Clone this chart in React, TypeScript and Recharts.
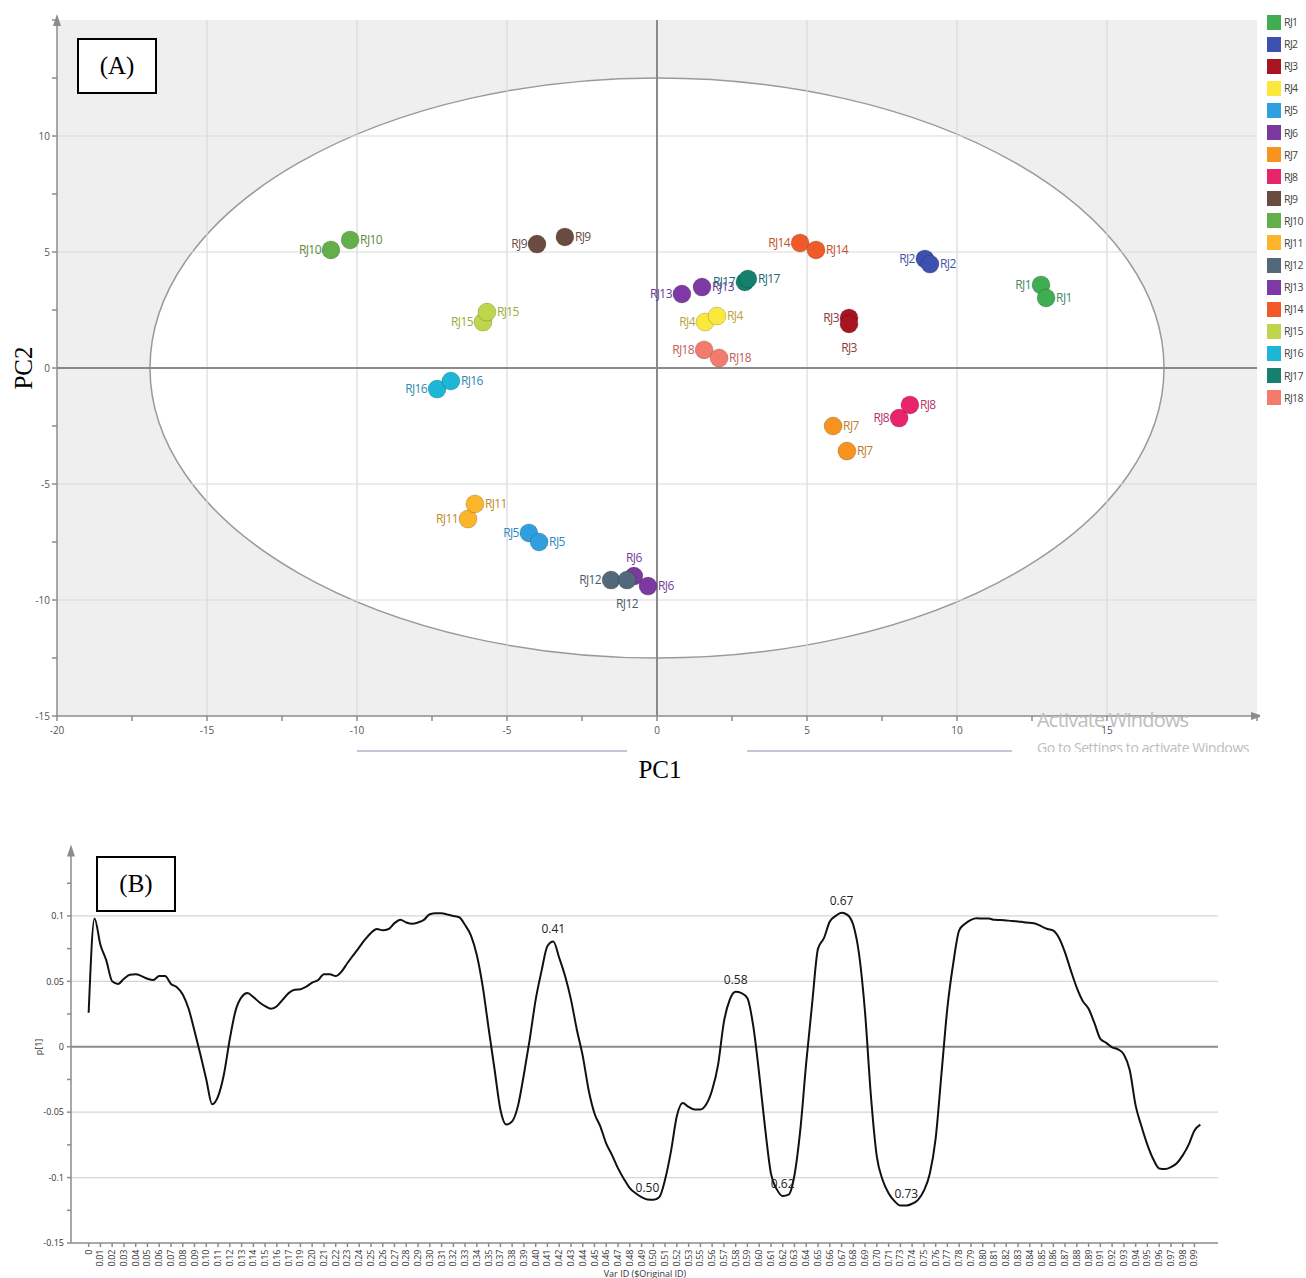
import React from 'react';
import {
  ScatterChart, Scatter, LineChart, Line, XAxis, YAxis,
  ReferenceArea, ReferenceLine, ReferenceDot,
} from 'recharts';

// ---- (A) PCA score plot ----
const samples = ['RJ1', 'RJ2', 'RJ3', 'RJ4', 'RJ5', 'RJ6', 'RJ7', 'RJ8', 'RJ9', 'RJ10', 'RJ11', 'RJ12', 'RJ13', 'RJ14', 'RJ15', 'RJ16', 'RJ17', 'RJ18'];
const pc1Rep1 = [12.8, 8.93, 6.4, 1.6, -4.27, -0.77, 5.87, 8.07, -4.0, -10.87, -6.3, -1.53, 0.83, 4.77, -5.8, -7.33, 2.93, 1.57];
const pc2Rep1 = [3.58, 4.7, 2.16, 1.98, -7.11, -8.97, -2.5, -2.16, 5.34, 5.09, -6.51, -9.14, 3.19, 5.39, 1.98, -0.91, 3.71, 0.78];
const pc1Rep2 = [12.97, 9.1, 6.4, 2.0, -3.93, -0.3, 6.33, 8.43, -3.07, -10.23, -6.07, -1.0, 1.5, 5.3, -5.67, -6.87, 3.03, 2.07];
const pc2Rep2 = [3.02, 4.48, 1.9, 2.24, -7.5, -9.4, -3.58, -1.59, 5.65, 5.52, -5.86, -9.14, 3.49, 5.09, 2.41, -0.56, 3.84, 0.43];
// Hotelling T2 ellipse semi-axes
const ellipseRadiusX = 16.9;
const ellipseRadiusY = 12.5;
const xTicksA = [-20, -17.5, -15, -12.5, -10, -7.5, -5, -2.5, 0, 2.5, 5, 7.5, 10, 12.5, 15, 17.5, 20];
const yTicksA = [-15, -12.5, -10, -7.5, -5, -2.5, 0, 2.5, 5, 7.5, 10, 12.5, 15];
const xGridA = [-15, -10, -5, 5, 10, 15];
const yGridA = [-10, -5, 5, 10];

const pointColors = ['#41ad52', '#3d52b0', '#a8141f', '#fbe83c', '#2f9fe0', '#7b3a9f', '#f7931e', '#e8246a', '#6b4a3f', '#63b04a', '#fbb52a', '#51697a', '#7d3aa6', '#f05a28', '#bdd64b', '#1cb7d4', '#14806d', '#f27b6d'];
const labelColors = ['#3f8a5c', '#3f51a8', '#8a3a3a', '#b5a43e', '#2a89c6', '#7a3a9e', '#c07a2a', '#b8336a', '#6b4a3f', '#5c8a40', '#c08a2a', '#4a5a6a', '#6a3a9a', '#c0502a', '#9aac3a', '#2a8ab0', '#1a6a70', '#c0605a'];
const sideRep1 = ['left', 'left', 'left', 'left', 'left', 'top', 'right', 'left', 'left', 'left', 'left', 'left', 'left', 'left', 'left', 'left', 'left', 'left'];
const sideRep2 = ['right', 'right', 'bottom', 'right', 'right', 'right', 'right', 'right', 'right', 'right', 'right', 'bottom', 'right', 'right', 'right', 'right', 'right', 'right'];

// ---- (B) loading line plot ----
const varLabels = [
  '0', '0.01', '0.02', '0.03', '0.04', '0.05', '0.06', '0.07', '0.08', '0.09', '0.10', '0.11', '0.12', '0.13', '0.14', '0.15', '0.16', '0.17',
  '0.19', '0.20', '0.21', '0.22', '0.23', '0.24', '0.25', '0.26', '0.27', '0.28', '0.29', '0.30', '0.31', '0.32', '0.33', '0.34', '0.35',
  '0.37', '0.38', '0.39', '0.40', '0.41', '0.42', '0.43', '0.44', '0.45', '0.46', '0.47', '0.48', '0.49', '0.50', '0.51', '0.52', '0.53',
  '0.55', '0.56', '0.57', '0.58', '0.59', '0.60', '0.61', '0.62', '0.63', '0.64', '0.65', '0.66', '0.67', '0.68', '0.69', '0.70', '0.71',
  '0.73', '0.74', '0.75', '0.76', '0.77', '0.78', '0.79', '0.80', '0.81', '0.82', '0.83', '0.84', '0.85', '0.86', '0.87', '0.88', '0.89',
  '0.91', '0.92', '0.93', '0.94', '0.95', '0.96', '0.97', '0.98', '0.99',
];
// p[1] sampled every half tick
const p1 = [
  0.026, 0.098, 0.078, 0.066, 0.050, 0.048, 0.052, 0.055, 0.0555, 0.054,
  0.052, 0.051, 0.054, 0.054, 0.048, 0.0455, 0.040, 0.029, 0.012, -0.006,
  -0.025, -0.044, -0.038, -0.021, 0.006, 0.028, 0.038, 0.041, 0.038, 0.034,
  0.031, 0.029, 0.031, 0.036, 0.041, 0.0435, 0.044, 0.046, 0.049, 0.051,
  0.0555, 0.0555, 0.054, 0.0575, 0.064, 0.070, 0.076, 0.082, 0.087, 0.090,
  0.089, 0.090, 0.0945, 0.097, 0.095, 0.094, 0.095, 0.097, 0.1013, 0.102,
  0.102, 0.101, 0.100, 0.099, 0.093, 0.085, 0.070, 0.046, 0.014, -0.017,
  -0.048, -0.0595, -0.057, -0.045, -0.021, 0.006, 0.036, 0.058, 0.077, 0.0805,
  0.068, 0.054, 0.036, 0.013, -0.007, -0.033, -0.051, -0.061, -0.074, -0.083,
  -0.093, -0.101, -0.108, -0.112, -0.115, -0.1168, -0.117, -0.115, -0.1015, -0.080,
  -0.053, -0.043, -0.046, -0.048, -0.048, -0.044, -0.033, -0.014, 0.019, 0.036,
  0.042, 0.041, 0.037, 0.0155, -0.021, -0.062, -0.097, -0.109, -0.114, -0.113,
  -0.098, -0.063, -0.012, 0.033, 0.075, 0.083, 0.0957, 0.100, 0.1025, 0.1008,
  0.093, 0.070, 0.026, -0.038, -0.084, -0.102, -0.112, -0.118, -0.1214, -0.1214,
  -0.120, -0.117, -0.110, -0.097, -0.070, -0.020, 0.030, 0.064, 0.089, 0.094,
  0.097, 0.0982, 0.098, 0.098, 0.097, 0.0968, 0.0965, 0.0962, 0.0958, 0.0952,
  0.0947, 0.094, 0.092, 0.090, 0.0888, 0.083, 0.072, 0.058, 0.045, 0.035,
  0.029, 0.018, 0.006, 0.003, -0.0005, -0.002, -0.006, -0.018, -0.045, -0.061,
  -0.075, -0.086, -0.093, -0.0935, -0.092, -0.089, -0.083, -0.075, -0.064, -0.0595,
];
const peakLabels = ['0.41', '0.50', '0.58', '0.62', '0.67', '0.73'];
const peakPoints = [79, 95, 110, 118, 128, 139];
const yTicksB = [-0.15, -0.125, -0.1, -0.075, -0.05, -0.025, 0, 0.025, 0.05, 0.075, 0.1, 0.125];
const yGridB = [-0.1, -0.05, 0.05, 0.1];

const lineData = p1.map((v, i) => ({ pos: i / 2, p: v }));
const peakData = peakPoints.map((k, i) => ({ label: peakLabels[i], pos: lineData[k].pos, p: lineData[k].p }));

const sans = '"Open Sans", "DejaVu Sans", sans-serif';

const ScorePoint = (props: any) => {
  const { cx, cy, payload } = props;
  if (cx == null || cy == null) return null;
  const side = payload.side;
  let tx = cx + 10, ty = cy + 4, anchor = 'start';
  if (side === 'left') { tx = cx - 10; anchor = 'end'; }
  if (side === 'top') { tx = cx; ty = cy - 14; anchor = 'middle'; }
  if (side === 'bottom') { tx = cx; ty = cy + 28; anchor = 'middle'; }
  return (
    <g>
      <circle cx={cx} cy={cy} r={9} fill={payload.color} stroke="rgba(0,0,0,0.18)" strokeWidth={1} />
      <text x={tx} y={ty} textAnchor={anchor} fontSize={12} letterSpacing={-0.6}
        fontFamily={sans} fill={payload.labelColor}>{payload.name}</text>
    </g>
  );
};

const Arrow = ({ cx, cy, dir }: any) => {
  if (cx == null) return null;
  const pts = dir === 'up'
    ? `${cx - 4},${cy + 6} ${cx + 4},${cy + 6} ${cx},${cy - 6}`
    : `${cx - 6},${cy - 4} ${cx - 6},${cy + 4} ${cx + 6},${cy}`;
  return <polygon points={pts} fill="#8c8c8c" />;
};

const VarTick = (props: any) => {
  const { x, y, payload } = props;
  return (
    <text x={x} y={y} dy={3} transform={`rotate(-90 ${x} ${y})`} textAnchor="end"
      fontSize={9} fontFamily={sans} fill="#333" letterSpacing={-0.3}>
      {varLabels[payload.value]}
    </text>
  );
};

const boxStyle: React.CSSProperties = {
  position: 'absolute', border: '2px solid #000', background: '#fff',
  fontFamily: '"Liberation Serif", "DejaVu Serif", serif', fontSize: 25,
  display: 'flex', alignItems: 'center', justifyContent: 'center', boxSizing: 'border-box',
};

export default function App() {
  const seriesA = samples.map((name, i) => ({
    name,
    data: [
      { x: pc1Rep1[i], y: pc2Rep1[i], side: sideRep1[i], name, color: pointColors[i], labelColor: labelColors[i] },
      { x: pc1Rep2[i], y: pc2Rep2[i], side: sideRep2[i], name, color: pointColors[i], labelColor: labelColors[i] },
    ],
  }));

  return (
    <div style={{ position: 'absolute', left: 0, top: 0, width: 1306, height: 1278, overflow: 'hidden', background: '#fff' }}>
      {/* (A) */}
      <div style={{ position: 'absolute', left: 0, top: 0 }}>
        <ScatterChart width={1260} height={780} margin={{ top: 20, right: 3, bottom: 34, left: 17 }}>
          <XAxis type="number" dataKey="x" domain={[-20, 20]} ticks={xTicksA} interval={0}
            tickFormatter={(v: number) => (v % 5 === 0 && v !== 20 ? String(v) : '')}
            height={30} tickSize={5} tickMargin={6} stroke="#8c8c8c" strokeWidth={1.5}
            tick={{ fontSize: 10, fill: '#555', fontFamily: sans }} allowDataOverflow />
          <YAxis type="number" dataKey="y" domain={[-15, 15]} ticks={yTicksA} interval={0}
            tickFormatter={(v: number) => (v % 5 === 0 && v !== 15 ? String(v) : '')}
            width={40} tickSize={5} tickMargin={2} stroke="#8c8c8c" strokeWidth={1.5}
            tick={{ fontSize: 10, fill: '#555', fontFamily: sans }} allowDataOverflow />
          <ReferenceArea x1={-20} x2={20} y1={-15} y2={15} fill="#efefef" fillOpacity={1} stroke="none" zIndex={-300} />
          <ReferenceArea x1={-ellipseRadiusX} x2={ellipseRadiusX} y1={-ellipseRadiusY} y2={ellipseRadiusY} zIndex={-250}
            shape={(p: any) => (
              <ellipse cx={p.x + p.width / 2} cy={p.y + p.height / 2} rx={Math.abs(p.width) / 2} ry={Math.abs(p.height) / 2}
                fill="#fff" stroke="#9a9a9a" strokeWidth={1.5} />
            )} />
          {xGridA.map((v) => <ReferenceLine key={`vx${v}`} x={v} stroke="#d9d9d9" strokeWidth={1.2} zIndex={-200} />)}
          {yGridA.map((v) => <ReferenceLine key={`hy${v}`} y={v} stroke="#d9d9d9" strokeWidth={1.2} zIndex={-200} />)}
          <ReferenceLine x={0} stroke="#8a8a8a" strokeWidth={2} zIndex={-150} />
          <ReferenceLine y={0} stroke="#8a8a8a" strokeWidth={2} zIndex={-150} />
          <ReferenceDot x={-20} y={15} r={0} ifOverflow="visible" shape={(p: any) => <Arrow {...p} dir="up" />} />
          <ReferenceDot x={20} y={-15} r={0} ifOverflow="visible" shape={(p: any) => <Arrow {...p} dir="right" />} />
          {seriesA.map((s, i) => (
            <Scatter key={s.name} name={s.name} data={s.data} fill={pointColors[i]}
              shape={ScorePoint} isAnimationActive={false} />
          ))}
        </ScatterChart>
      </div>

      {/* legend */}
      <div style={{ position: 'absolute', left: 1267, top: 11 }}>
        {samples.map((name, i) => (
          <div key={name} style={{ display: 'flex', alignItems: 'center', height: 22.1 }}>
            <div style={{ width: 14, height: 15, background: pointColors[i], marginRight: 3 }} />
            <span style={{ fontFamily: sans, fontSize: 10.5, color: '#444', letterSpacing: -0.6 }}>{name}</span>
          </div>
        ))}
      </div>

      <div style={{ ...boxStyle, left: 77, top: 38, width: 80, height: 56 }}>(A)</div>
      <div style={{
        position: 'absolute', left: 24, top: 368, transform: 'translate(-50%, -50%) rotate(-90deg)',
        fontFamily: '"Liberation Serif", serif', fontSize: 25, whiteSpace: 'nowrap',
      }}>PC2</div>
      <div style={{
        position: 'absolute', left: 660, top: 770, transform: 'translate(-50%, -50%)',
        fontFamily: '"Liberation Serif", serif', fontSize: 25,
      }}>PC1</div>
      <div style={{ position: 'absolute', left: 357, top: 750, width: 270, height: 2, background: '#c3c6d6' }} />
      <div style={{ position: 'absolute', left: 747, top: 750, width: 265, height: 2, background: '#c3c6d6' }} />
      <div style={{ position: 'absolute', left: 1037, top: 706, fontFamily: sans, fontSize: 20, color: '#bdbdbd', letterSpacing: -0.8 }}>Activate Windows</div>
      <div style={{ position: 'absolute', left: 1037, top: 738, height: 14, overflow: 'hidden', fontFamily: sans, fontSize: 14, color: '#bdbdbd', letterSpacing: -0.4, whiteSpace: 'nowrap' }}>Go to Settings to activate Windows</div>

      {/* (B) */}
      <div style={{ position: 'absolute', left: 0, top: 830 }}>
        <LineChart width={1240} height={448} data={lineData} margin={{ top: 20.5, right: 22, bottom: 0, left: 21 }}>
          <XAxis type="number" dataKey="pos" domain={[-1.5, 96]} ticks={varLabels.map((_, i) => i)} interval={0}
            tick={<VarTick />} height={35} tickSize={4} tickMargin={3} stroke="#8c8c8c" strokeWidth={1.5} allowDataOverflow />
          <YAxis type="number" domain={[-0.15, 0.15]} ticks={yTicksB} interval={0}
            tickFormatter={(v: number) => (Math.round(v * 1000) % 50 === 0 ? String(v) : '')}
            width={50} tickSize={4} tickMargin={3} stroke="#8c8c8c" strokeWidth={1.5}
            tick={{ fontSize: 9, fill: '#333', fontFamily: sans }} allowDataOverflow />
          {yGridB.map((v) => <ReferenceLine key={`gb${v}`} y={v} stroke="#d6d6d6" strokeWidth={1.2} zIndex={-200} />)}
          <ReferenceLine y={0} stroke="#8a8a8a" strokeWidth={2} zIndex={-150} />
          <ReferenceDot x={-1.5} y={0.15} r={0} ifOverflow="visible" shape={(p: any) => <Arrow {...p} dir="up" />} />
          <Line type="monotone" dataKey="p" stroke="#111" strokeWidth={2} dot={false} isAnimationActive={false} />
          {peakData.map((d) => (
            <ReferenceDot key={d.label} x={d.pos} y={d.p} r={0} ifOverflow="visible"
              shape={(p: any) => (
                <text x={p.cx} y={p.cy - 8} textAnchor="middle" fontSize={12} fontFamily={sans} fill="#222">{d.label}</text>
              )} />
          ))}
        </LineChart>
      </div>
      <div style={{ ...boxStyle, left: 96, top: 856, width: 80, height: 56 }}>(B)</div>
      <div style={{
        position: 'absolute', left: 38, top: 1047, transform: 'translate(-50%, -50%) rotate(-90deg)',
        fontFamily: sans, fontSize: 9, color: '#333',
      }}>p[1]</div>
      <div style={{
        position: 'absolute', left: 645, top: 1267, transform: 'translateX(-50%)',
        fontFamily: sans, fontSize: 9, color: '#333', whiteSpace: 'nowrap',
      }}>Var ID ($Original ID)</div>
    </div>
  );
}
